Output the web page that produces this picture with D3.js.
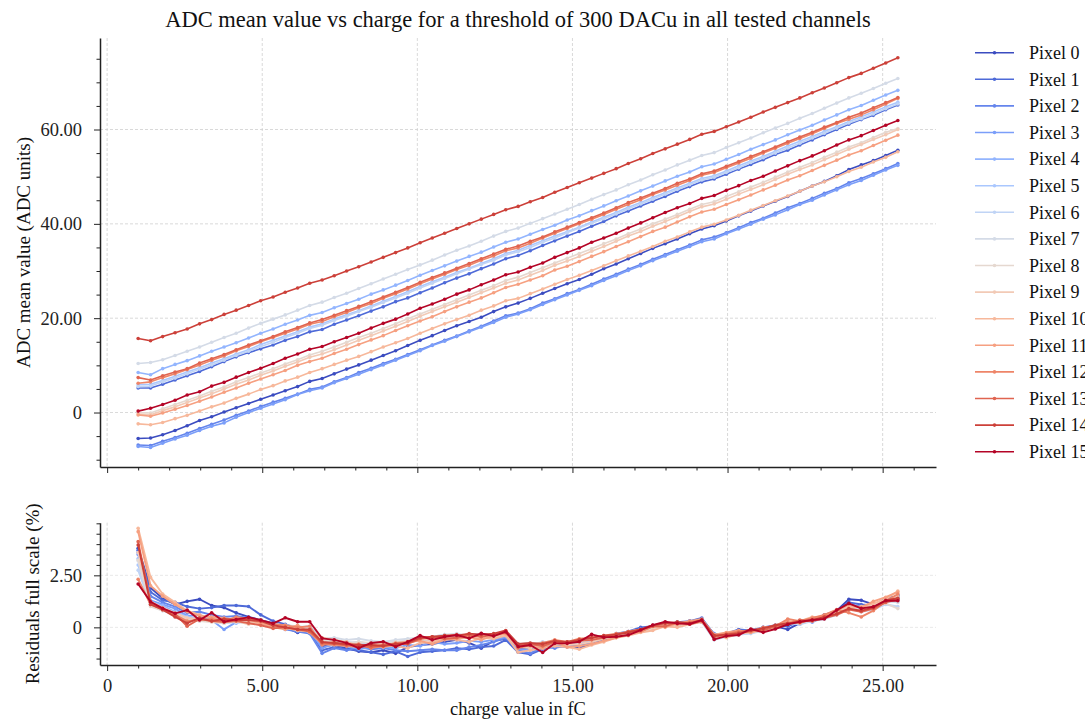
<!DOCTYPE html>
<html lang="en">
<head>
<meta charset="UTF-8">
<title>ADC mean value vs charge</title>
<script src="https://cdn.jsdelivr.net/npm/d3@7"></script>
<style>
  body { margin: 0; background: #fff; overflow: hidden; }
  svg { display: block; font-family: "Liberation Serif", "Times New Roman", serif; }
  .grid line { stroke: #cfcfcf; stroke-width: 0.8; stroke-dasharray: 3,2; }
  .axis path, .axis line { stroke: #222; }
  .axis text { fill: #222; }
</style>
</head>
<body>
<svg id="chart" width="1085" height="719"></svg>
<script>
// charge injected (fC), shared by every pixel
const charge = [1.00, 1.40, 1.79, 2.19, 2.58, 2.98, 3.37, 3.77, 4.16, 4.56,
  4.95, 5.35, 5.74, 6.14, 6.53, 6.93, 7.32, 7.72, 8.11, 8.51,
  8.90, 9.30, 9.69, 10.09, 10.48, 10.88, 11.27, 11.67, 12.06, 12.46,
  12.85, 13.25, 13.64, 14.04, 14.43, 14.83, 15.22, 15.62, 16.01, 16.41,
  16.80, 17.20, 17.59, 17.99, 18.38, 18.78, 19.17, 19.57, 19.96, 20.36,
  20.75, 21.15, 21.54, 21.94, 22.33, 22.73, 23.12, 23.52, 23.91, 24.31,
  24.70, 25.10, 25.49];

const pixelLabels = ["Pixel 0", "Pixel 1", "Pixel 2", "Pixel 3", "Pixel 4", "Pixel 5", "Pixel 6", "Pixel 7",
  "Pixel 8", "Pixel 9", "Pixel 10", "Pixel 11", "Pixel 12", "Pixel 13", "Pixel 14", "Pixel 15"];

// coolwarm, 16 steps
const pixelColors = ["#3b4cc0", "#4e6ad8", "#6585ec", "#7b9ef9", "#93b5fe", "#aac7fe", "#c0d4f5", "#d4dbe7",
  "#e5d8d0", "#f2cab6", "#f7b89b", "#f6a081", "#ee8568", "#e06450", "#cc4039", "#b40426"];

// ADC mean value per pixel
const adc0 = [-5.5, -5.4, -4.7, -3.8, -2.8, -1.7, -0.9, 0.1, 1.0, 1.9,
  2.8, 3.7, 4.6, 5.5, 6.6, 7.2, 8.2, 9.2, 10.1, 11.1,
  12.1, 13.1, 14.2, 15.3, 16.3, 17.4, 18.4, 19.3, 20.2, 21.4,
  22.4, 23.2, 24.2, 25.3, 26.3, 27.3, 28.2, 29.3, 30.5, 31.5,
  32.6, 33.7, 34.8, 35.8, 36.8, 37.9, 38.9, 39.6, 40.6, 41.7,
  42.7, 43.8, 44.8, 45.8, 46.9, 48.0, 49.0, 50.2, 51.5, 52.5,
  53.4, 54.5, 55.6];
const adc1 = [5.2, 5.2, 6.0, 6.9, 7.8, 8.7, 9.7, 10.8, 11.8, 12.7,
  13.5, 14.3, 15.3, 16.1, 17.1, 17.6, 18.7, 19.6, 20.5, 21.5,
  22.4, 23.5, 24.3, 25.4, 26.4, 27.5, 28.5, 29.4, 30.5, 31.5,
  32.6, 33.3, 34.3, 35.4, 36.4, 37.4, 38.4, 39.5, 40.5, 41.7,
  42.7, 43.8, 44.8, 45.8, 46.9, 47.9, 48.9, 49.5, 50.5, 51.6,
  52.6, 53.6, 54.7, 55.6, 56.7, 57.8, 58.9, 60.0, 61.1, 62.1,
  63.0, 64.2, 65.2];
const adc2 = [-6.9, -7.0, -6.1, -5.3, -4.4, -3.4, -2.5, -1.6, -0.6, 0.3,
  1.3, 2.2, 3.0, 3.9, 4.9, 5.4, 6.5, 7.4, 8.5, 9.4,
  10.4, 11.3, 12.3, 13.3, 14.3, 15.3, 16.2, 17.3, 18.3, 19.4,
  20.5, 21.1, 22.0, 23.2, 24.1, 25.2, 26.1, 27.2, 28.3, 29.3,
  30.4, 31.4, 32.5, 33.5, 34.5, 35.5, 36.6, 37.2, 38.1, 39.2,
  40.3, 41.2, 42.3, 43.4, 44.3, 45.4, 46.5, 47.5, 48.7, 49.6,
  50.6, 51.7, 52.8];
const adc3 = [-7.2, -7.4, -6.5, -5.6, -4.8, -3.8, -2.9, -2.2, -1.0, 0.0,
  0.9, 1.8, 2.7, 3.8, 4.6, 5.2, 6.3, 7.2, 8.1, 9.1,
  10.1, 11.1, 12.1, 13.1, 14.2, 15.1, 16.1, 17.1, 18.1, 19.1,
  20.2, 20.9, 21.8, 22.9, 23.9, 24.9, 25.9, 26.9, 28.0, 29.0,
  30.1, 31.1, 32.2, 33.2, 34.2, 35.2, 36.2, 36.8, 37.9, 38.9,
  39.9, 41.0, 41.9, 43.0, 44.1, 45.0, 46.1, 47.2, 48.3, 49.2,
  50.3, 51.4, 52.4];
const adc4 = [8.5, 8.0, 9.3, 10.2, 11.0, 12.0, 13.0, 13.9, 14.8, 15.8,
  16.8, 17.7, 18.7, 19.6, 20.6, 21.2, 22.2, 23.1, 24.0, 25.1,
  26.0, 27.0, 28.0, 29.1, 30.1, 31.1, 32.1, 33.1, 34.0, 35.1,
  36.1, 36.8, 37.8, 38.8, 39.7, 40.8, 41.7, 42.8, 43.8, 44.9,
  45.9, 47.0, 48.0, 49.1, 50.1, 51.0, 52.1, 52.7, 53.7, 54.7,
  55.8, 56.8, 57.8, 58.9, 59.9, 60.9, 62.0, 63.1, 64.2, 65.1,
  66.2, 67.3, 68.3];
const adc5 = [5.9, 6.0, 6.8, 7.7, 8.6, 9.5, 10.5, 11.4, 12.4, 13.3,
  14.4, 15.3, 16.2, 17.1, 18.1, 18.8, 19.8, 20.7, 21.6, 22.6,
  23.6, 24.6, 25.6, 26.7, 27.7, 28.7, 29.7, 30.6, 31.6, 32.6,
  33.7, 34.4, 35.4, 36.4, 37.4, 38.3, 39.3, 40.4, 41.4, 42.4,
  43.5, 44.5, 45.6, 46.6, 47.6, 48.6, 49.6, 50.2, 51.2, 52.3,
  53.3, 54.3, 55.4, 56.5, 57.5, 58.5, 59.6, 60.6, 61.7, 62.7,
  63.7, 64.8, 65.8];
const adc6 = [5.5, 5.6, 6.5, 7.3, 8.2, 9.2, 10.1, 11.1, 12.1, 13.0,
  14.0, 14.9, 15.9, 16.8, 17.8, 18.5, 19.5, 20.4, 21.4, 22.3,
  23.3, 24.3, 25.3, 26.4, 27.4, 28.4, 29.4, 30.4, 31.4, 32.3,
  33.4, 34.1, 35.0, 36.1, 37.0, 38.1, 39.1, 40.1, 41.1, 42.1,
  43.2, 44.2, 45.2, 46.3, 47.3, 48.3, 49.3, 49.9, 50.9, 51.9,
  53.0, 54.0, 55.0, 56.1, 57.1, 58.2, 59.2, 60.3, 61.4, 62.3,
  63.3, 64.4, 65.4];
const adc7 = [10.4, 10.6, 11.2, 12.1, 13.0, 13.9, 14.9, 15.9, 16.8, 17.9,
  18.9, 19.8, 20.7, 21.7, 22.7, 23.4, 24.4, 25.3, 26.3, 27.3,
  28.3, 29.3, 30.3, 31.3, 32.3, 33.4, 34.4, 35.3, 36.3, 37.4,
  38.4, 39.1, 40.1, 41.1, 42.1, 43.1, 44.1, 45.2, 46.2, 47.2,
  48.3, 49.3, 50.4, 51.4, 52.5, 53.5, 54.5, 55.1, 56.2, 57.2,
  58.2, 59.3, 60.3, 61.3, 62.4, 63.4, 64.5, 65.6, 66.7, 67.7,
  68.7, 69.8, 70.8];
const adc8 = [0.0, -0.1, 0.8, 1.7, 2.6, 3.5, 4.5, 5.4, 6.5, 7.4,
  8.4, 9.3, 10.3, 11.2, 12.2, 13.0, 13.9, 14.9, 15.9, 16.8,
  17.8, 18.8, 19.9, 20.9, 21.9, 22.9, 23.9, 24.9, 25.9, 26.9,
  28.0, 28.7, 29.7, 30.7, 31.7, 32.7, 33.7, 34.7, 35.8, 36.8,
  37.9, 38.9, 40.0, 41.0, 42.0, 43.1, 44.1, 44.7, 45.8, 46.8,
  47.8, 48.8, 49.9, 51.0, 52.0, 53.0, 54.1, 55.2, 56.3, 57.2,
  58.3, 59.4, 60.2];
const adc9 = [-0.3, -0.5, 0.4, 1.2, 2.1, 3.1, 4.0, 5.0, 6.0, 6.9,
  7.9, 8.8, 9.8, 10.7, 11.7, 12.4, 13.3, 14.3, 15.3, 16.3,
  17.3, 18.3, 19.3, 20.4, 21.4, 22.4, 23.4, 24.4, 25.4, 26.4,
  27.4, 28.1, 29.1, 30.1, 31.2, 32.1, 33.1, 34.2, 35.2, 36.3,
  37.4, 38.4, 39.5, 40.5, 41.5, 42.6, 43.6, 44.2, 45.2, 46.3,
  47.3, 48.3, 49.4, 50.5, 51.5, 52.5, 53.6, 54.7, 55.8, 56.8,
  57.9, 58.9, 60.0];
const adc10 = [-2.4, -2.6, -2.1, -1.3, -0.6, 0.3, 1.2, 2.0, 3.0, 3.9,
  4.9, 5.7, 6.7, 7.5, 8.5, 9.3, 10.2, 11.1, 11.9, 12.9,
  13.9, 14.8, 15.7, 16.8, 17.8, 18.8, 19.7, 20.6, 21.7, 22.6,
  23.7, 24.2, 25.2, 26.2, 27.2, 28.2, 29.1, 30.1, 31.1, 32.2,
  33.2, 34.2, 35.2, 36.3, 37.2, 38.3, 39.3, 39.9, 40.8, 41.8,
  42.9, 43.9, 44.9, 45.9, 46.9, 48.0, 48.9, 50.0, 51.1, 52.0,
  53.1, 54.1, 55.3];
const adc11 = [-0.5, -0.8, -0.1, 0.7, 1.5, 2.4, 3.3, 4.3, 5.2, 6.2,
  7.1, 8.0, 8.9, 10.0, 10.8, 11.5, 12.5, 13.4, 14.4, 15.4,
  16.3, 17.4, 18.4, 19.4, 20.3, 21.4, 22.4, 23.4, 24.3, 25.4,
  26.5, 27.2, 28.1, 29.0, 30.2, 31.0, 32.0, 33.1, 34.1, 35.2,
  36.2, 37.3, 38.4, 39.3, 40.4, 41.5, 42.5, 43.1, 44.1, 45.1,
  46.1, 47.2, 48.2, 49.3, 50.2, 51.3, 52.4, 53.5, 54.6, 55.5,
  56.6, 57.7, 58.8];
const adc12 = [6.2, 6.5, 7.4, 8.2, 9.1, 10.1, 11.1, 12.0, 13.1, 14.0,
  15.0, 15.9, 16.8, 17.7, 18.7, 19.3, 20.3, 21.2, 22.2, 23.1,
  24.2, 25.2, 26.2, 27.3, 28.3, 29.3, 30.3, 31.2, 32.3, 33.2,
  34.3, 34.9, 35.9, 37.0, 38.0, 39.0, 40.0, 41.0, 42.0, 43.1,
  44.1, 45.1, 46.2, 47.2, 48.2, 49.2, 50.3, 50.9, 51.9, 52.9,
  53.9, 55.0, 56.0, 57.1, 58.1, 59.1, 60.2, 61.3, 62.2, 63.1,
  64.2, 65.4, 66.6];
const adc13 = [7.4, 6.9, 7.8, 8.6, 9.3, 10.5, 11.4, 12.3, 13.3, 14.3,
  15.2, 16.1, 17.1, 18.0, 19.0, 19.7, 20.6, 21.6, 22.5, 23.5,
  24.5, 25.5, 26.5, 27.6, 28.6, 29.6, 30.6, 31.6, 32.6, 33.6,
  34.6, 35.3, 36.3, 37.2, 38.3, 39.3, 40.3, 41.3, 42.3, 43.4,
  44.5, 45.5, 46.5, 47.5, 48.6, 49.5, 50.6, 51.2, 52.2, 53.2,
  54.3, 55.3, 56.3, 57.4, 58.4, 59.4, 60.5, 61.5, 62.6, 63.5,
  64.6, 65.7, 66.8];
const adc14 = [15.7, 15.2, 16.1, 16.9, 17.7, 18.8, 19.7, 20.8, 21.7, 22.7,
  23.7, 24.5, 25.5, 26.4, 27.4, 28.1, 29.0, 30.0, 30.9, 31.9,
  32.9, 33.9, 34.9, 36.0, 37.0, 38.0, 39.0, 40.0, 41.0, 42.0,
  43.0, 43.7, 44.7, 45.6, 46.7, 47.7, 48.7, 49.7, 50.7, 51.7,
  52.8, 53.8, 54.9, 55.9, 56.9, 57.9, 59.0, 59.6, 60.6, 61.6,
  62.6, 63.7, 64.7, 65.7, 66.7, 67.8, 68.8, 69.9, 71.0, 71.9,
  73.0, 74.1, 75.2];
const adc15 = [0.3, 0.9, 1.7, 2.6, 3.7, 4.4, 5.6, 6.4, 7.5, 8.5,
  9.4, 10.4, 11.5, 12.4, 13.4, 14.0, 15.0, 15.9, 16.8, 17.9,
  18.9, 19.8, 20.9, 22.1, 23.0, 24.0, 25.1, 26.0, 27.1, 28.1,
  29.2, 29.8, 30.8, 31.7, 32.9, 33.9, 34.9, 36.1, 37.0, 38.0,
  39.1, 40.2, 41.3, 42.4, 43.4, 44.3, 45.4, 46.0, 47.1, 48.1,
  49.2, 50.1, 51.2, 52.3, 53.4, 54.4, 55.5, 56.7, 57.8, 58.7,
  59.8, 60.9, 61.9];

// residuals of the linear fit, % of full scale
const res0 = [3.8, 1.9, 1.4, 1.1, 1.25, 1.35, 1.05, 0.95, 0.7, 0.5,
  0.35, 0.2, 0.0, -0.25, -0.1, -0.9, -0.85, -1.0, -1.15, -1.2,
  -1.1, -1.25, -0.95, -0.85, -0.8, -0.7, -0.6, -0.75, -1.0, -0.65,
  -0.55, -1.05, -1.0, -0.95, -0.85, -0.8, -1.0, -0.8, -0.6, -0.45,
  -0.3, -0.1, 0.05, 0.15, 0.1, 0.3, 0.25, -0.4, -0.3, -0.2,
  -0.25, -0.05, 0.05, -0.1, 0.2, 0.3, 0.45, 0.8, 1.35, 1.3,
  1.1, 1.35, 1.5];
const res1 = [3.7, 1.7, 1.3, 1.2, 1.0, 0.9, 0.95, 1.05, 1.05, 1.0,
  0.6, 0.3, 0.15, -0.05, -0.2, -1.1, -0.95, -1.05, -1.1, -1.2,
  -1.3, -1.15, -1.4, -1.2, -1.15, -1.1, -1.0, -1.05, -0.95, -0.9,
  -0.6, -1.2, -1.3, -1.05, -0.9, -0.95, -0.8, -0.7, -0.6, -0.3,
  -0.2, 0.0, 0.05, 0.1, 0.25, 0.3, 0.45, -0.35, -0.3, -0.1,
  -0.15, 0.0, 0.1, 0.05, 0.3, 0.35, 0.6, 0.8, 1.2, 1.1,
  1.05, 1.4, 1.5];
const res2 = [3.6, 1.5, 1.2, 1.0, 0.7, 0.75, 0.6, 0.5, 0.55, 0.45,
  0.3, 0.15, -0.1, -0.2, -0.3, -1.25, -1.0, -1.1, -0.95, -1.05,
  -1.0, -1.1, -1.15, -1.1, -1.05, -1.1, -1.1, -0.95, -0.85, -0.7,
  -0.5, -1.1, -1.25, -0.95, -1.0, -0.85, -0.9, -0.7, -0.55, -0.4,
  -0.25, -0.1, 0.05, 0.2, 0.1, 0.25, 0.35, -0.3, -0.4, -0.2,
  -0.1, -0.15, 0.1, 0.25, 0.15, 0.4, 0.55, 0.75, 1.1, 1.0,
  0.9, 1.2, 1.55];
const res3 = [3.5, 1.3, 1.1, 0.9, 0.55, 0.6, 0.35, -0.1, 0.25, 0.3,
  0.2, 0.05, -0.05, 0.05, -0.15, -1.0, -0.8, -0.9, -1.05, -0.95,
  -0.95, -1.0, -0.85, -0.9, -0.7, -0.8, -0.75, -0.65, -0.7, -0.6,
  -0.45, -1.05, -1.1, -0.9, -0.8, -0.85, -0.7, -0.75, -0.5, -0.45,
  -0.2, -0.15, 0.1, 0.05, 0.25, 0.15, 0.3, -0.5, -0.35, -0.3,
  -0.2, 0.0, -0.05, 0.2, 0.3, 0.25, 0.5, 0.65, 0.95, 0.85,
  1.0, 1.25, 1.35];
const res4 = [3.3, 1.2, 1.05, 0.75, 0.5, 0.45, 0.5, 0.4, 0.2, 0.35,
  0.25, 0.1, 0.1, -0.05, 0.0, -0.7, -0.75, -0.85, -0.9, -0.8,
  -0.95, -0.9, -0.75, -0.6, -0.6, -0.5, -0.55, -0.4, -0.5, -0.35,
  -0.3, -0.9, -0.85, -0.8, -0.85, -0.75, -0.8, -0.6, -0.5, -0.35,
  -0.3, -0.1, 0.0, 0.15, 0.2, 0.15, 0.35, -0.4, -0.3, -0.25,
  -0.2, -0.1, 0.05, 0.15, 0.3, 0.35, 0.45, 0.7, 0.95, 0.85,
  1.0, 1.3, 1.45];
const res5 = [3.0, 1.15, 0.9, 0.7, 0.5, 0.4, 0.35, 0.3, 0.35, 0.25,
  0.3, 0.15, 0.05, 0.0, 0.05, -0.6, -0.65, -0.7, -0.8, -0.75,
  -0.8, -0.75, -0.7, -0.55, -0.5, -0.45, -0.4, -0.45, -0.4, -0.35,
  -0.25, -0.85, -0.8, -0.75, -0.7, -0.75, -0.7, -0.55, -0.5, -0.35,
  -0.25, -0.1, 0.05, 0.15, 0.2, 0.25, 0.3, -0.5, -0.4, -0.3,
  -0.15, -0.1, 0.05, 0.25, 0.3, 0.4, 0.55, 0.65, 0.95, 0.9,
  0.95, 1.2, 1.3];
const res6 = [2.75, 1.05, 0.8, 0.6, 0.45, 0.3, 0.3, 0.2, 0.25, 0.2,
  0.15, 0.05, 0.0, -0.1, -0.05, -0.65, -0.6, -0.75, -0.7, -0.8,
  -0.75, -0.7, -0.65, -0.5, -0.45, -0.35, -0.4, -0.35, -0.3, -0.35,
  -0.2, -0.8, -0.85, -0.7, -0.75, -0.7, -0.65, -0.6, -0.45, -0.4,
  -0.25, -0.2, -0.05, 0.1, 0.15, 0.2, 0.25, -0.6, -0.45, -0.35,
  -0.3, -0.15, -0.05, 0.2, 0.15, 0.3, 0.4, 0.6, 0.9, 0.75,
  0.85, 1.1, 1.0];
const res7 = [3.2, 1.1, 0.85, 0.7, 0.4, 0.35, 0.3, 0.35, 0.25, 0.3,
  0.3, 0.15, 0.1, 0.05, 0.0, -0.55, -0.5, -0.6, -0.55, -0.65,
  -0.7, -0.6, -0.55, -0.5, -0.45, -0.35, -0.3, -0.4, -0.35, -0.3,
  -0.25, -0.8, -0.75, -0.8, -0.7, -0.7, -0.6, -0.55, -0.45, -0.35,
  -0.2, -0.1, 0.0, 0.1, 0.2, 0.2, 0.3, -0.4, -0.3, -0.2,
  -0.2, -0.05, 0.05, 0.15, 0.3, 0.35, 0.5, 0.75, 1.0, 0.9,
  1.05, 1.25, 1.2];
const res8 = [3.24, 1.0, 0.8, 0.65, 0.4, 0.3, 0.25, 0.2, 0.3, 0.2,
  0.25, 0.1, 0.0, -0.05, -0.1, -0.6, -0.7, -0.75, -0.7, -0.75,
  -0.8, -0.7, -0.65, -0.55, -0.5, -0.45, -0.5, -0.45, -0.4, -0.45,
  -0.3, -0.85, -0.8, -0.75, -0.8, -0.75, -0.7, -0.6, -0.5, -0.4,
  -0.3, -0.2, -0.05, 0.05, 0.15, 0.2, 0.3, -0.45, -0.3, -0.25,
  -0.2, -0.1, 0.0, 0.2, 0.25, 0.3, 0.5, 0.7, 0.9, 0.85,
  0.95, 1.15, 0.9];
const res9 = [3.6, 1.25, 0.95, 0.7, 0.45, 0.4, 0.3, 0.25, 0.3, 0.15,
  0.2, 0.1, -0.05, -0.1, -0.15, -0.7, -0.8, -0.85, -0.8, -0.9,
  -0.85, -0.8, -0.75, -0.6, -0.6, -0.5, -0.55, -0.5, -0.5, -0.45,
  -0.35, -0.95, -1.0, -0.85, -0.75, -0.85, -0.8, -0.7, -0.55, -0.45,
  -0.3, -0.15, 0.0, 0.1, 0.1, 0.2, 0.3, -0.55, -0.4, -0.3,
  -0.25, -0.15, 0.0, 0.2, 0.3, 0.35, 0.5, 0.75, 1.05, 0.95,
  1.1, 1.3, 1.5];
const res10 = [4.76, 2.4, 1.6, 1.2, 0.8, 0.6, 0.45, 0.3, 0.4, 0.3,
  0.2, 0.05, 0.0, -0.15, -0.2, -0.5, -0.6, -0.7, -0.9, -0.85,
  -0.8, -0.9, -1.0, -0.75, -0.7, -0.55, -0.6, -0.7, -0.5, -0.55,
  -0.4, -1.2, -1.1, -1.0, -0.9, -0.95, -1.05, -0.85, -0.7, -0.5,
  -0.4, -0.25, -0.15, 0.05, 0.0, 0.15, 0.25, -0.35, -0.5, -0.3,
  -0.2, -0.1, 0.0, 0.15, 0.3, 0.5, 0.45, 0.65, 0.95, 1.0,
  1.15, 1.35, 1.75];
const res11 = [4.6, 2.0, 1.5, 1.1, 0.75, 0.55, 0.5, 0.45, 0.35, 0.4,
  0.2, 0.0, -0.1, 0.1, -0.25, -0.8, -0.85, -0.9, -0.95, -0.8,
  -0.95, -0.85, -0.7, -0.65, -0.8, -0.6, -0.55, -0.45, -0.6, -0.4,
  -0.3, -0.85, -0.9, -1.0, -0.7, -0.95, -0.9, -0.8, -0.65, -0.5,
  -0.35, -0.2, 0.05, 0.0, 0.2, 0.3, 0.4, -0.35, -0.25, -0.15,
  -0.25, -0.05, 0.1, 0.3, 0.2, 0.4, 0.55, 0.8, 1.1, 0.95,
  1.25, 1.45, 1.7];
const res12 = [2.31, 1.1, 0.85, 0.6, 0.3, 0.35, 0.4, 0.3, 0.5, 0.4,
  0.35, 0.15, 0.1, 0.0, 0.05, -0.85, -0.7, -0.9, -0.8, -1.0,
  -0.9, -0.75, -0.7, -0.45, -0.5, -0.4, -0.35, -0.5, -0.3, -0.4,
  -0.2, -1.0, -0.85, -0.75, -0.6, -0.7, -0.55, -0.5, -0.4, -0.3,
  -0.25, -0.2, 0.05, 0.2, 0.15, 0.25, 0.35, -0.4, -0.3, -0.2,
  -0.2, 0.0, 0.05, 0.4, 0.3, 0.45, 0.6, 0.85, 0.7, 0.5,
  0.8, 1.25, 1.6];
const res13 = [4.12, 1.2, 0.9, 0.65, 0.05, 0.4, 0.3, 0.25, 0.3, 0.2,
  0.1, -0.05, 0.0, -0.1, -0.2, -0.75, -0.8, -0.85, -0.9, -0.95,
  -0.85, -0.8, -0.8, -0.55, -0.45, -0.55, -0.5, -0.35, -0.45, -0.35,
  -0.25, -0.9, -0.8, -0.9, -0.7, -0.75, -0.65, -0.6, -0.5, -0.35,
  -0.2, -0.1, 0.05, 0.05, 0.25, 0.15, 0.3, -0.45, -0.35, -0.25,
  -0.1, -0.15, 0.05, 0.15, 0.35, 0.3, 0.45, 0.6, 0.85, 0.75,
  0.9, 1.2, 1.35];
const res14 = [3.96, 1.1, 0.85, 0.5, 0.2, 0.45, 0.3, 0.4, 0.35, 0.35,
  0.3, 0.1, 0.0, -0.1, -0.1, -0.7, -0.75, -0.8, -0.85, -0.85,
  -0.9, -0.8, -0.75, -0.5, -0.45, -0.4, -0.4, -0.3, -0.35, -0.3,
  -0.15, -0.8, -0.75, -0.8, -0.65, -0.7, -0.6, -0.5, -0.4, -0.35,
  -0.25, -0.1, 0.1, 0.2, 0.25, 0.2, 0.35, -0.4, -0.35, -0.3,
  -0.15, -0.05, 0.1, 0.2, 0.25, 0.35, 0.5, 0.65, 0.9, 0.8,
  0.95, 1.3, 1.4];
const res15 = [2.08, 1.23, 0.91, 0.67, 0.83, 0.35, 0.70, 0.27, 0.38, 0.48,
  0.35, 0.19, 0.46, 0.27, 0.27, -0.53, -0.6, -0.75, -1.0, -0.75,
  -0.69, -0.93, -0.7, -0.40, -0.6, -0.45, -0.37, -0.53, -0.29, -0.42,
  -0.21, -0.93, -0.85, -1.21, -0.77, -0.77, -0.69, -0.34, -0.48, -0.45,
  -0.37, -0.13, 0.11, 0.27, 0.19, 0.16, 0.35, -0.58, -0.42, -0.37,
  -0.08, -0.24, -0.08, 0.14, 0.27, 0.35, 0.40, 0.83, 1.15, 0.91,
  0.99, 1.28, 1.28];

const adcSeries = [adc0, adc1, adc2, adc3, adc4, adc5, adc6, adc7, adc8, adc9, adc10, adc11, adc12, adc13, adc14, adc15];
const resSeries = [res0, res1, res2, res3, res4, res5, res6, res7, res8, res9, res10, res11, res12, res13, res14, res15];

const xMajor = [0, 5, 10, 15, 20, 25];
const xMinor = d3.range(0, 27, 1).filter(v => v % 5 !== 0);
const yTopMajor = [0, 20, 40, 60];
const yTopMinor = d3.range(-10, 80, 5).filter(v => v % 20 !== 0);
const yBotMajor = [0, 2.5];
const yBotMinor = d3.range(-1.5, 5.01, 0.5).filter(v => v !== 0 && v !== 2.5);

const svg = d3.select("#chart");
const left = 100, right = 936;
const top1 = 38, bottom1 = 467;
const top2 = 522.7, bottom2 = 665;

const x = d3.scaleLinear().domain([-0.23, 26.72]).range([left, right]);
const yTop = d3.scaleLinear().domain([-11.55, 79.4]).range([bottom1, top1]);
const yBot = d3.scaleLinear().domain([-1.81, 5.03]).range([bottom2, top2]);

const fmt = d => d === 0 ? "0" : d3.format(".2f")(d);

function grid(yScale, yTicks, t, b, hOpacity) {
  const g = svg.append("g").attr("class", "grid");
  g.selectAll(".v").data(xMajor).join("line")
    .attr("x1", d => x(d)).attr("x2", d => x(d))
    .attr("y1", t).attr("y2", b);
  g.selectAll(".h").data(yTicks).join("line")
    .attr("x1", left).attr("x2", right)
    .attr("y1", d => yScale(d)).attr("y2", d => yScale(d))
    .attr("stroke-opacity", hOpacity);
}
grid(yTop, yTopMajor, top1, bottom1, 1);
grid(yBot, yBotMajor, top2, bottom2, 0.6);

function axes(yScale, yMajor, yMinor, b, showX) {
  const gx = svg.append("g").attr("class", "axis").attr("transform", `translate(0,${b})`);
  gx.call(d3.axisBottom(x).tickValues(xMajor).tickSize(6).tickSizeOuter(0)
    .tickFormat(showX ? fmt : () => ""));
  gx.append("g").call(d3.axisBottom(x).tickValues(xMinor).tickSize(3.5).tickFormat(() => ""))
    .select(".domain").remove();
  gx.select(".domain").attr("stroke-width", 1.5);
  gx.selectAll("text").attr("font-size", 18.5).attr("font-family", "Liberation Serif, serif").attr("dy", "0.95em");

  const gy = svg.append("g").attr("class", "axis").attr("transform", `translate(${left},0)`);
  gy.call(d3.axisLeft(yScale).tickValues(yMajor).tickSize(6).tickSizeOuter(0).tickFormat(fmt));
  gy.append("g").call(d3.axisLeft(yScale).tickValues(yMinor).tickSize(3.5).tickFormat(() => ""))
    .select(".domain").remove();
  gy.select(".domain").attr("stroke-width", 1.5);
  gy.selectAll("text").attr("font-size", 18.5).attr("font-family", "Liberation Serif, serif").attr("x", -18);
}
axes(yTop, yTopMajor, yTopMinor, bottom1, false);
axes(yBot, yBotMajor, yBotMinor, bottom2, true);

function drawSeries(seriesList, yScale, width) {
  const line = d3.line().x((d, i) => x(charge[i])).y(d => yScale(d));
  seriesList.forEach((vals, p) => {
    const g = svg.append("g");
    g.append("path").attr("d", line(vals))
      .attr("fill", "none").attr("stroke", pixelColors[p])
      .attr("stroke-width", width).attr("stroke-linejoin", "round");
    g.selectAll("circle").data(vals).join("circle")
      .attr("cx", (d, i) => x(charge[i])).attr("cy", d => yScale(d))
      .attr("r", 1.8).attr("fill", pixelColors[p]);
  });
}
drawSeries(adcSeries, yTop, 1.6);
drawSeries(resSeries, yBot, 1.9);

// titles and labels
svg.append("text").attr("x", (left + right) / 2).attr("y", 27)
  .attr("text-anchor", "middle").attr("font-size", 22.5).attr("fill", "#111")
  .text("ADC mean value vs charge for a threshold of 300 DACu in all tested channels");
svg.append("text").attr("transform", `translate(30,${(top1 + bottom1) / 2}) rotate(-90)`)
  .attr("text-anchor", "middle").attr("font-size", 19).attr("fill", "#111")
  .text("ADC mean value (ADC units)");
svg.append("text").attr("transform", `translate(39,${(top2 + bottom2) / 2}) rotate(-90)`)
  .attr("text-anchor", "middle").attr("font-size", 19).attr("fill", "#111")
  .text("Residuals full scale (%)");
svg.append("text").attr("x", (left + right) / 2).attr("y", 715)
  .attr("text-anchor", "middle").attr("font-size", 18.5).attr("fill", "#111")
  .text("charge value in fC");

// legend
const legend = svg.append("g").attr("transform", "translate(975,52.7)");
pixelLabels.forEach((name, p) => {
  const row = legend.append("g").attr("transform", `translate(0,${p * 26.6})`);
  row.append("line").attr("x1", 0).attr("x2", 39).attr("y1", 0).attr("y2", 0)
    .attr("stroke", pixelColors[p]).attr("stroke-width", 1.6);
  row.append("circle").attr("cx", 19.5).attr("cy", 0).attr("r", 1.8).attr("fill", pixelColors[p]);
  row.append("text").attr("x", 54).attr("y", 0).attr("dy", "0.35em")
    .attr("font-size", 18).attr("fill", "#111").text(name);
});
</script>
</body>
</html>
